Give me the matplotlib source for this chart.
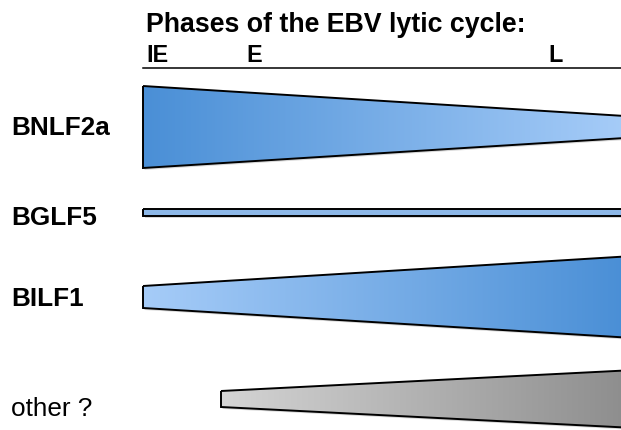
import matplotlib
matplotlib.use("Agg")
import matplotlib.pyplot as plt
import numpy as np
from matplotlib.patches import Polygon
from matplotlib.colors import LinearSegmentedColormap

# chart content, in pixel units of the original 621x431 picture
title = "Phases of the EBV lytic cycle:"
phases = ["IE", "E", "L"]
phase_x = [146, 246, 548]

genes = ["BNLF2a", "BGLF5", "BILF1", "other ?"]
gene_bold = [True, True, True, False]
label_baseline = [135.5, 225.5, 306.5, 416.5]
start_x = [143, 143, 143, 221]
end_x = [621, 621, 621, 621]
center_y = [128, 213.5, 298, 400]
height_start = [82, 6.5, 22, 16]
height_end = [22, 6.5, 81, 57]
color_start = ["#4a8fd6", "#8db8e8", "#a6ccf8", "#d4d4d4"]
color_end = ["#a6ccf8", "#8db8e8", "#4a8fd6", "#8e8e8e"]

plt.rcParams["font.family"] = ["Liberation Sans", "DejaVu Sans"]

fig = plt.figure(figsize=(6.21, 4.31), dpi=100)
ax = fig.add_axes([0, 0, 1, 1])
ax.set_xlim(0, 621)
ax.set_ylim(431, 0)
ax.axis("off")

ax.text(146, 32, title, fontsize=19.3, fontweight="bold", va="baseline", ha="left")
for p, x in zip(phases, phase_x):
    ax.text(x, 62.5, p, fontsize=16.8, fontweight="bold", va="baseline", ha="left")
ax.plot([143, 621], [68.5, 68.5], color="black", lw=1.1)

for i, g in enumerate(genes):
    ax.text(11, label_baseline[i], g, fontsize=18.8,
            fontweight="bold" if gene_bold[i] else "normal",
            va="baseline", ha="left")

    x0, x1 = start_x[i], end_x[i] + 4
    cy = center_y[i]
    h0, h1 = height_start[i], height_end[i]
    pts = [(x0, cy - h0 / 2), (x1, cy - h1 / 2), (x1, cy + h1 / 2), (x0, cy + h0 / 2)]

    # soft shadow
    shadow = Polygon([(px + 1.5, py + 2) for px, py in pts], closed=True,
                     facecolor="black", alpha=0.15, edgecolor="none", zorder=1)
    ax.add_patch(shadow)

    poly = Polygon(pts, closed=True, facecolor="none", edgecolor="black",
                   lw=1.4, zorder=3, joinstyle="miter")
    ax.add_patch(poly)

    cmap = LinearSegmentedColormap.from_list(g, [color_start[i], color_end[i]])
    grad = np.linspace(0, 1, 256).reshape(1, -1)
    top = cy - max(h0, h1) / 2
    bot = cy + max(h0, h1) / 2
    im = ax.imshow(grad, cmap=cmap, aspect="auto", extent=(x0, x1, bot, top),
                   zorder=2, interpolation="bilinear")
    clip = Polygon(pts, closed=True, transform=ax.transData)
    im.set_clip_path(clip)

ax.set_xlim(0, 621)
ax.set_ylim(431, 0)

fig.savefig("out.png", dpi=100)
